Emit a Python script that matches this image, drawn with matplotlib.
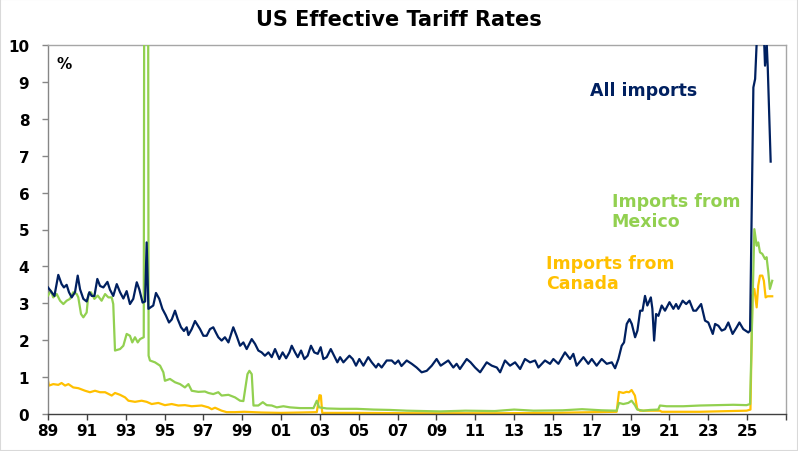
import matplotlib
matplotlib.use("Agg")
import matplotlib.pyplot as plt
from matplotlib.patches import Rectangle

# ---------------- data (decimal years, % effective tariff rate) ----------------
all_years = [1989.00,1989.19,1989.33,1989.53,1989.70,1989.82,1989.96,1990.08,1990.22,1990.39,1990.53,1990.65,
             1990.82,1990.99,1991.13,1991.25,1991.39,1991.54,1991.68,1991.85,1992.06,1992.19,1992.36,1992.54,
             1992.71,1992.88,1993.05,1993.22,1993.39,1993.57,1993.70,1993.87,1994.00,1994.08,1994.17,1994.42,
             1994.56,1994.73,1994.89,1995.06,1995.23,1995.37,1995.54,1995.68,1995.85,1996.00,1996.14,1996.23,
             1996.40,1996.57,1996.71,1996.83,1997.00,1997.17,1997.34,1997.51,1997.65,1997.77,1997.94,1998.11,
             1998.29,1998.54,1998.71,1998.89,1999.06,1999.23,1999.49,1999.66,1999.83,2000.00,2000.17,2000.35,
             2000.52,2000.69,2000.91,2001.08,2001.26,2001.43,2001.55,2001.72,2001.86,2002.03,2002.20,2002.37,
             2002.54,2002.71,2002.89,2003.04,2003.18,2003.35,2003.56,2003.73,2003.90,2004.04,2004.21,2004.52,
             2004.69,2004.86,2005.03,2005.24,2005.49,2005.67,2005.89,2006.01,2006.18,2006.44,2006.70,2006.87,
             2007.04,2007.20,2007.47,2007.73,2007.98,2008.24,2008.50,2008.76,2009.01,2009.22,2009.61,2009.87,
             2010.04,2010.21,2010.56,2010.76,2010.99,2011.25,2011.59,2011.85,2012.11,2012.28,2012.53,2012.79,
             2013.05,2013.31,2013.56,2013.82,2014.08,2014.25,2014.59,2014.85,2015.02,2015.28,2015.62,2015.88,
             2016.05,2016.22,2016.57,2016.82,2017.00,2017.25,2017.51,2017.77,2018.03,2018.20,2018.37,2018.54,
             2018.66,2018.80,2018.94,2019.06,2019.23,2019.35,2019.49,2019.61,2019.74,2019.86,2020.04,2020.12,
             2020.21,2020.31,2020.43,2020.60,2020.77,2021.00,2021.20,2021.34,2021.46,2021.68,2021.86,2022.03,
             2022.23,2022.37,2022.63,2022.83,2023.00,2023.23,2023.35,2023.52,2023.69,2023.86,2024.03,2024.25,
             2024.46,2024.60,2024.80,2025.06,2025.15,2025.32,2025.41,2025.55,2025.70,2025.84,2025.92,2026.01,
             2026.06,2026.21]
all_vals = [3.43,3.30,3.20,3.77,3.52,3.43,3.50,3.30,3.16,3.30,3.75,3.38,
            3.12,3.05,3.30,3.20,3.20,3.66,3.47,3.43,3.58,3.37,3.20,3.52,
            3.30,3.13,3.33,2.98,3.12,3.57,3.38,3.02,3.05,4.65,2.85,2.94,
            3.28,3.12,2.85,2.68,2.48,2.56,2.80,2.57,2.35,2.25,2.35,2.14,
            2.30,2.52,2.40,2.30,2.12,2.12,2.30,2.35,2.20,2.08,1.99,2.08,
            1.94,2.35,2.12,1.85,1.94,1.76,2.03,1.90,1.72,1.67,1.58,1.67,
            1.54,1.76,1.49,1.67,1.51,1.67,1.85,1.67,1.54,1.72,1.49,1.58,
            1.85,1.67,1.63,1.81,1.49,1.54,1.76,1.58,1.40,1.54,1.40,1.58,
            1.49,1.31,1.49,1.31,1.54,1.40,1.26,1.36,1.26,1.45,1.45,1.36,
            1.45,1.30,1.45,1.36,1.26,1.13,1.17,1.31,1.49,1.31,1.45,1.26,
            1.36,1.22,1.49,1.40,1.26,1.13,1.40,1.31,1.26,1.13,1.45,1.31,
            1.40,1.22,1.49,1.40,1.45,1.26,1.45,1.36,1.49,1.36,1.67,1.49,
            1.63,1.31,1.54,1.36,1.49,1.31,1.49,1.36,1.40,1.24,1.49,1.85,
            1.94,2.44,2.57,2.44,2.08,2.26,2.80,2.80,3.20,2.94,3.16,2.85,
            1.99,2.71,2.66,2.94,2.80,3.03,2.85,2.98,2.85,3.07,2.98,3.07,
            2.80,2.80,2.98,2.53,2.48,2.17,2.44,2.39,2.26,2.30,2.48,2.17,
            2.35,2.48,2.30,2.21,2.26,8.85,9.08,10.8,11.0,10.6,9.44,10.0,
            9.40,6.84]

mex_years = [1989.00,1989.15,1989.27,1989.45,1989.62,1989.79,1989.96,1990.13,1990.30,1990.48,1990.56,1990.70,
             1990.82,1990.99,1991.08,1991.21,1991.39,1991.56,1991.76,1991.94,1992.11,1992.28,1992.36,1992.45,
             1992.71,1992.88,1993.05,1993.22,1993.34,1993.48,1993.62,1993.74,1993.93,1993.96,1994.15,1994.18,
             1994.25,1994.51,1994.77,1994.94,1995.02,1995.28,1995.54,1995.80,1996.05,1996.23,1996.40,1996.74,
             1997.08,1997.26,1997.51,1997.77,1997.94,1998.29,1998.63,1998.89,1999.06,1999.27,1999.37,1999.49,
             1999.58,1999.83,2000.06,2000.26,2000.52,2000.78,2001.12,2001.46,2001.98,2002.67,2002.84,2002.96,
             2003.35,2004.04,2004.90,2005.76,2006.61,2007.47,2009.19,2010.50,2012.00,2013.00,2014.00,2015.50,
             2016.50,2017.50,2018.28,2018.40,2018.62,2018.88,2019.05,2019.22,2019.34,2019.65,2020.00,2020.42,
             2020.51,2020.85,2021.71,2022.57,2023.43,2024.29,2024.97,2025.15,2025.37,2025.49,2025.57,2025.66,
             2025.78,2025.92,2026.00,2026.09,2026.17,2026.29]
mex_vals = [3.21,3.34,3.16,3.25,3.07,2.98,3.07,3.12,3.30,3.25,3.16,2.71,
            2.62,2.75,3.25,3.30,3.12,3.21,3.07,3.25,3.16,3.16,2.98,1.72,
            1.76,1.85,2.17,2.12,1.94,2.08,1.94,2.03,2.08,14.0,14.0,1.58,
            1.45,1.40,1.31,1.13,0.90,0.95,0.86,0.81,0.72,0.81,0.63,0.60,
            0.61,0.57,0.54,0.59,0.50,0.52,0.45,0.36,0.35,1.08,1.17,1.08,
            0.23,0.23,0.32,0.24,0.23,0.18,0.21,0.18,0.16,0.16,0.36,0.18,
            0.15,0.14,0.14,0.12,0.11,0.09,0.07,0.09,0.08,0.12,0.09,0.10,
            0.13,0.10,0.09,0.30,0.27,0.30,0.36,0.24,0.12,0.09,0.11,0.12,
            0.23,0.21,0.21,0.23,0.24,0.25,0.24,0.27,5.01,4.56,4.65,4.38,
            4.34,4.20,4.25,3.84,3.39,3.61]

can_years = [1989.00,1989.05,1989.27,1989.53,1989.70,1989.88,1990.05,1990.30,1990.56,1990.91,1991.16,1991.42,
             1991.68,1991.94,1992.28,1992.45,1992.71,1992.97,1993.14,1993.48,1993.82,1994.08,1994.34,1994.68,
             1995.02,1995.37,1995.71,1996.05,1996.40,1996.91,1997.26,1997.43,1997.60,1997.94,1998.20,1998.63,
             1999.11,2000.00,2001.00,2002.00,2002.84,2002.98,2003.05,2003.12,2005.00,2008.00,2012.00,2015.00,
             2018.28,2018.40,2018.62,2018.79,2018.92,2019.05,2019.22,2019.34,2019.48,2020.51,2020.60,2022.57,
             2024.97,2025.17,2025.27,2025.37,2025.49,2025.57,2025.66,2025.78,2025.86,2025.95,2026.05,2026.29]
can_vals = [0.90,0.77,0.81,0.79,0.84,0.77,0.81,0.72,0.70,0.63,0.59,0.63,
            0.59,0.59,0.50,0.57,0.52,0.45,0.36,0.33,0.36,0.33,0.27,0.30,
            0.24,0.27,0.23,0.24,0.21,0.23,0.18,0.13,0.17,0.09,0.05,0.05,
            0.06,0.04,0.03,0.04,0.05,0.51,0.50,0.03,0.03,0.02,0.02,0.03,
            0.06,0.60,0.57,0.60,0.59,0.65,0.50,0.14,0.09,0.09,0.06,0.06,
            0.09,0.12,3.21,3.39,2.89,3.48,3.75,3.75,3.61,3.16,3.19,3.19]

x_tick_years = list(range(1989, 2028, 2))
y_ticks = list(range(0, 11))

NAVY = "#002060"
GREEN = "#92D050"
ORANGE = "#FFC000"

# ---------------- figure ----------------
plt.rcParams['font.family'] = ['DejaVu Sans']
fig = plt.figure(figsize=(7.98, 4.52), dpi=100)
ax = fig.add_axes([48/798, 37/452, 738/798, 369/452])

LW = 1.6
ax.plot(can_years, can_vals, color=ORANGE, lw=LW, solid_joinstyle='round', zorder=2)
ax.plot(mex_years, mex_vals, color=GREEN, lw=LW, solid_joinstyle='round', zorder=3)
ax.plot(all_years, all_vals, color=NAVY, lw=LW, solid_joinstyle='round', zorder=4)

ax.set_xlim(1989, 2027)
ax.set_ylim(0, 10)
ax.set_xticks(x_tick_years)
ax.set_xticklabels([f"{y % 100:02d}" if y <= 2025 else "" for y in x_tick_years])
ax.set_yticks(y_ticks)
ax.set_yticklabels([str(v) for v in y_ticks])

for lab in ax.get_xticklabels() + ax.get_yticklabels():
    lab.set_fontweight('bold')
    lab.set_fontsize(11)
ax.tick_params(axis='x', direction='out', length=4, width=1, color='#404040', pad=2.5)
ax.tick_params(axis='y', direction='out', length=4.5, width=1, color='#868686', pad=9)

ax.spines['left'].set_color('#868686')
ax.spines['bottom'].set_color('#404040')
ax.spines['top'].set_color('#a6a6a6')
ax.spines['right'].set_color('#a6a6a6')
for s in ax.spines.values():
    s.set_linewidth(1.0)

# annotations
ax.text(1989.46, 9.38, "%", fontsize=11, fontweight='bold', color='black', va='baseline')
ax.text(2016.91, 8.64, "All imports", fontsize=12.5, fontweight='bold', color=NAVY, va='baseline')
ax.text(2018.03, 5.64, "Imports from", fontsize=12.5, fontweight='bold', color=GREEN, va='baseline')
ax.text(2018.03, 5.09, "Mexico", fontsize=12.5, fontweight='bold', color=GREEN, va='baseline')
ax.text(2014.63, 3.96, "Imports from", fontsize=12.5, fontweight='bold', color=ORANGE, va='baseline')
ax.text(2014.63, 3.41, "Canada", fontsize=12.5, fontweight='bold', color=ORANGE, va='baseline')

fig.text(398.7/798, 1 - 26/452, "US Effective Tariff Rates", fontsize=15, fontweight='bold',
         ha='center', va='baseline', color='black')

fig.patches.append(Rectangle((0, 0), 1, 1, transform=fig.transFigure, fill=False,
                             edgecolor='#d9d9d9', lw=1.5))

fig.savefig("out.png", dpi=100)
